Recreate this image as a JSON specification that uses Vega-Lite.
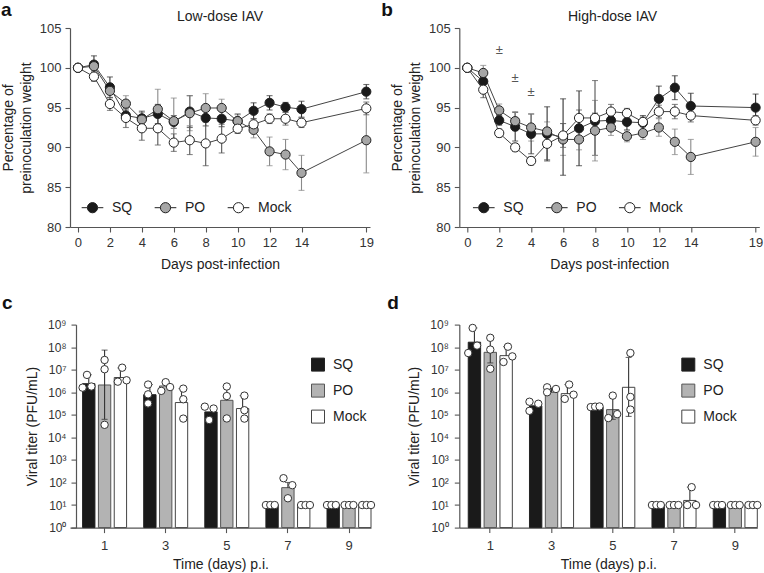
{
  "$schema": "https://vega.github.io/schema/vega-lite/v6.json",
  "padding": {"left": 1, "top": 1, "right": 0, "bottom": 0},
  "background": "white",
  "config": {
    "font": "Liberation Sans",
    "view": {"stroke": null},
    "axis": {"domainColor": "#555", "tickColor": "#555", "labelColor": "#333", "titleColor": "#222", "labelFontSize": 13, "titleFontSize": 14, "titleFontWeight": "normal", "grid": false, "tickSize": 5, "domainWidth": 1.2, "tickWidth": 1.1},
    "legend": {"labelFontSize": 14, "labelColor": "#222", "padding": 0},
    "title": {"fontSize": 19, "fontWeight": "bold", "color": "#111", "anchor": "start", "frame": "group"}
  },
  "datasets": {
    "weight": [
      {"p":"a","s":"SQ","d":0,"v":100,"e":0},{"p":"a","s":"SQ","d":1,"v":100.4,"e":1.1},{"p":"a","s":"SQ","d":2,"v":97.55,"e":1.3},{"p":"a","s":"SQ","d":3,"v":94.0,"e":0.7},{"p":"a","s":"SQ","d":4,"v":93.65,"e":0.9},{"p":"a","s":"SQ","d":5,"v":94.2,"e":1.2},{"p":"a","s":"SQ","d":6,"v":93.2,"e":0.8},{"p":"a","s":"SQ","d":7,"v":94.5,"e":2.0},{"p":"a","s":"SQ","d":8,"v":93.7,"e":1.0},{"p":"a","s":"SQ","d":9,"v":93.6,"e":1.0},{"p":"a","s":"SQ","d":10,"v":93.3,"e":0.9},{"p":"a","s":"SQ","d":11,"v":94.6,"e":1.0},{"p":"a","s":"SQ","d":12,"v":95.6,"e":0.9},{"p":"a","s":"SQ","d":13,"v":95.05,"e":0.6},{"p":"a","s":"SQ","d":14,"v":94.8,"e":1.0},{"p":"a","s":"SQ","d":19,"v":97.0,"e":0.9},
      {"p":"a","s":"PO","d":0,"v":100,"e":0},{"p":"a","s":"PO","d":1,"v":100.2,"e":0.5},{"p":"a","s":"PO","d":2,"v":97.1,"e":0.8},{"p":"a","s":"PO","d":3,"v":95.5,"e":1.0},{"p":"a","s":"PO","d":4,"v":93.5,"e":0.9},{"p":"a","s":"PO","d":5,"v":94.8,"e":2.5},{"p":"a","s":"PO","d":6,"v":93.3,"e":2.9},{"p":"a","s":"PO","d":7,"v":94.3,"e":2.2},{"p":"a","s":"PO","d":8,"v":94.95,"e":1.8},{"p":"a","s":"PO","d":9,"v":94.95,"e":1.1},{"p":"a","s":"PO","d":10,"v":93.3,"e":0.8},{"p":"a","s":"PO","d":11,"v":92.2,"e":1.0},{"p":"a","s":"PO","d":12,"v":89.5,"e":1.8},{"p":"a","s":"PO","d":13,"v":89.1,"e":1.9},{"p":"a","s":"PO","d":14,"v":86.8,"e":2.2},{"p":"a","s":"PO","d":19,"v":90.9,"e":4.1},
      {"p":"a","s":"Mock","d":0,"v":100,"e":0},{"p":"a","s":"Mock","d":1,"v":98.9,"e":0.6},{"p":"a","s":"Mock","d":2,"v":95.45,"e":0.8},{"p":"a","s":"Mock","d":3,"v":93.7,"e":1.2},{"p":"a","s":"Mock","d":4,"v":92.4,"e":1.5},{"p":"a","s":"Mock","d":5,"v":92.4,"e":2.1},{"p":"a","s":"Mock","d":6,"v":90.6,"e":1.1},{"p":"a","s":"Mock","d":7,"v":90.9,"e":1.8},{"p":"a","s":"Mock","d":8,"v":90.5,"e":2.8},{"p":"a","s":"Mock","d":9,"v":91.1,"e":1.8},{"p":"a","s":"Mock","d":10,"v":92.35,"e":0.6},{"p":"a","s":"Mock","d":11,"v":92.9,"e":0.7},{"p":"a","s":"Mock","d":12,"v":93.6,"e":0.6},{"p":"a","s":"Mock","d":13,"v":93.6,"e":0.8},{"p":"a","s":"Mock","d":14,"v":93.1,"e":0.6},{"p":"a","s":"Mock","d":19,"v":94.9,"e":0.8},
      {"p":"b","s":"SQ","d":0,"v":100,"e":0},{"p":"b","s":"SQ","d":1,"v":98.3,"e":0.6},{"p":"b","s":"SQ","d":2,"v":93.4,"e":0.6},{"p":"b","s":"SQ","d":3,"v":92.6,"e":1.8},{"p":"b","s":"SQ","d":4,"v":91.7,"e":2.5},{"p":"b","s":"SQ","d":5,"v":91.7,"e":3.4},{"p":"b","s":"SQ","d":6,"v":91.3,"e":4.8},{"p":"b","s":"SQ","d":7,"v":92.4,"e":4.7},{"p":"b","s":"SQ","d":8,"v":93.3,"e":1.0},{"p":"b","s":"SQ","d":9,"v":93.4,"e":0.9},{"p":"b","s":"SQ","d":10,"v":93.2,"e":1.0},{"p":"b","s":"SQ","d":11,"v":93.1,"e":0.9},{"p":"b","s":"SQ","d":12,"v":96.1,"e":1.6},{"p":"b","s":"SQ","d":13,"v":97.5,"e":1.5},{"p":"b","s":"SQ","d":14,"v":95.2,"e":1.6},{"p":"b","s":"SQ","d":19,"v":95.0,"e":1.7},
      {"p":"b","s":"PO","d":0,"v":100,"e":0},{"p":"b","s":"PO","d":1,"v":99.35,"e":0.95},{"p":"b","s":"PO","d":2,"v":94.65,"e":0.8},{"p":"b","s":"PO","d":3,"v":93.3,"e":1.2},{"p":"b","s":"PO","d":4,"v":92.5,"e":1.7},{"p":"b","s":"PO","d":5,"v":92.0,"e":1.2},{"p":"b","s":"PO","d":6,"v":91.0,"e":2.0},{"p":"b","s":"PO","d":7,"v":91.0,"e":1.3},{"p":"b","s":"PO","d":8,"v":92.1,"e":3.8},{"p":"b","s":"PO","d":9,"v":92.5,"e":1.0},{"p":"b","s":"PO","d":10,"v":91.4,"e":0.7},{"p":"b","s":"PO","d":11,"v":91.8,"e":0.8},{"p":"b","s":"PO","d":12,"v":92.5,"e":1.1},{"p":"b","s":"PO","d":13,"v":90.7,"e":1.6},{"p":"b","s":"PO","d":14,"v":88.8,"e":2.2},{"p":"b","s":"PO","d":19,"v":90.7,"e":1.8},
      {"p":"b","s":"Mock","d":0,"v":100,"e":0},{"p":"b","s":"Mock","d":1,"v":97.25,"e":1.0},{"p":"b","s":"Mock","d":2,"v":91.8,"e":0.5},{"p":"b","s":"Mock","d":3,"v":90.0,"e":0.5},{"p":"b","s":"Mock","d":4,"v":88.3,"e":0.5},{"p":"b","s":"Mock","d":5,"v":90.45,"e":2.0},{"p":"b","s":"Mock","d":6,"v":91.5,"e":1.5},{"p":"b","s":"Mock","d":7,"v":93.7,"e":1.0},{"p":"b","s":"Mock","d":8,"v":93.7,"e":4.7},{"p":"b","s":"Mock","d":9,"v":94.5,"e":0.9},{"p":"b","s":"Mock","d":10,"v":94.3,"e":0.6},{"p":"b","s":"Mock","d":11,"v":93.2,"e":0.6},{"p":"b","s":"Mock","d":12,"v":94.5,"e":0.8},{"p":"b","s":"Mock","d":13,"v":94.5,"e":0.9},{"p":"b","s":"Mock","d":14,"v":94.0,"e":0.8},{"p":"b","s":"Mock","d":19,"v":93.4,"e":0.6}
    ],
    "titer": [
      {"p":"c","d":"1","s":"SQ","v":2400000,"lo":2400000,"hi":6000000},{"p":"c","d":"1","s":"PO","v":2100000,"lo":63000,"hi":74000000},{"p":"c","d":"1","s":"Mock","v":4500000,"lo":4500000,"hi":12000000},
      {"p":"c","d":"3","s":"SQ","v":780000,"lo":780000,"hi":2200000},{"p":"c","d":"3","s":"PO","v":1900000,"lo":1900000,"hi":2800000},{"p":"c","d":"3","s":"Mock","v":350000,"lo":350000,"hi":1450000},
      {"p":"c","d":"5","s":"SQ","v":135000,"lo":135000,"hi":135000},{"p":"c","d":"5","s":"PO","v":440000,"lo":440000,"hi":1800000},{"p":"c","d":"5","s":"Mock","v":190000,"lo":190000,"hi":710000},
      {"p":"c","d":"7","s":"SQ","v":10,"lo":10,"hi":10},{"p":"c","d":"7","s":"PO","v":59,"lo":59,"hi":100},{"p":"c","d":"7","s":"Mock","v":10,"lo":10,"hi":10},
      {"p":"c","d":"9","s":"SQ","v":10,"lo":10,"hi":10},{"p":"c","d":"9","s":"PO","v":10,"lo":10,"hi":10},{"p":"c","d":"9","s":"Mock","v":10,"lo":10,"hi":10},
      {"p":"d","d":"1","s":"SQ","v":166000000,"lo":166000000,"hi":710000000},{"p":"d","d":"1","s":"PO","v":59000000,"lo":20000000,"hi":240000000},{"p":"d","d":"1","s":"Mock","v":42000000,"lo":42000000,"hi":105000000},
      {"p":"d","d":"3","s":"SQ","v":250000,"lo":250000,"hi":250000},{"p":"d","d":"3","s":"PO","v":1000000,"lo":1000000,"hi":1500000},{"p":"d","d":"3","s":"Mock","v":870000,"lo":870000,"hi":2200000},
      {"p":"d","d":"5","s":"SQ","v":220000,"lo":220000,"hi":220000},{"p":"d","d":"5","s":"PO","v":170000,"lo":63000,"hi":710000},{"p":"d","d":"5","s":"Mock","v":1660000,"lo":85000,"hi":35000000},
      {"p":"d","d":"7","s":"SQ","v":10,"lo":10,"hi":10},{"p":"d","d":"7","s":"PO","v":10,"lo":10,"hi":10},{"p":"d","d":"7","s":"Mock","v":16,"lo":16,"hi":62},
      {"p":"d","d":"9","s":"SQ","v":10,"lo":10,"hi":10},{"p":"d","d":"9","s":"PO","v":10,"lo":10,"hi":10},{"p":"d","d":"9","s":"Mock","v":10,"lo":10,"hi":10}
    ],
    "pts": [
      {"p":"c","d":"1","id":"SQ1","v":1600000},{"p":"c","d":"1","id":"SQ2","v":5900000},{"p":"c","d":"1","id":"SQ3","v":1800000},
      {"p":"c","d":"1","id":"PO2","v":27000000},{"p":"c","d":"1","id":"PO2","v":10500000},{"p":"c","d":"1","id":"PO2","v":36000},
      {"p":"c","d":"1","id":"Mock2","v":12300000},{"p":"c","d":"1","id":"Mock1","v":2950000},{"p":"c","d":"1","id":"Mock3","v":3400000},
      {"p":"c","d":"3","id":"SQ2","v":2200000},{"p":"c","d":"3","id":"SQ2","v":810000},{"p":"c","d":"3","id":"SQ2","v":320000},
      {"p":"c","d":"3","id":"PO2","v":2800000},{"p":"c","d":"3","id":"PO1","v":1150000},{"p":"c","d":"3","id":"PO3","v":1700000},
      {"p":"c","d":"3","id":"Mock2","v":1450000},{"p":"c","d":"3","id":"Mock2","v":490000},{"p":"c","d":"3","id":"Mock2","v":68000},
      {"p":"c","d":"5","id":"SQ1","v":230000},{"p":"c","d":"5","id":"SQ3","v":190000},{"p":"c","d":"5","id":"SQ2","v":59000},
      {"p":"c","d":"5","id":"PO2","v":1800000},{"p":"c","d":"5","id":"PO2","v":680000},{"p":"c","d":"5","id":"PO2","v":69000},
      {"p":"c","d":"5","id":"Mock2","v":710000},{"p":"c","d":"5","id":"Mock2","v":160000},{"p":"c","d":"5","id":"Mock2","v":68000},
      {"p":"c","d":"7","id":"SQ1","v":10},{"p":"c","d":"7","id":"SQ2","v":10},{"p":"c","d":"7","id":"SQ3","v":10},
      {"p":"c","d":"7","id":"PO1","v":155},{"p":"c","d":"7","id":"PO3","v":76},{"p":"c","d":"7","id":"PO2","v":20},
      {"p":"c","d":"7","id":"Mock1","v":10},{"p":"c","d":"7","id":"Mock2","v":10},{"p":"c","d":"7","id":"Mock3","v":10},
      {"p":"c","d":"9","id":"SQ1","v":10},{"p":"c","d":"9","id":"SQ2","v":10},{"p":"c","d":"9","id":"SQ3","v":10},
      {"p":"c","d":"9","id":"PO1","v":10},{"p":"c","d":"9","id":"PO2","v":10},{"p":"c","d":"9","id":"PO3","v":10},
      {"p":"c","d":"9","id":"Mock1","v":10},{"p":"c","d":"9","id":"Mock2","v":10},{"p":"c","d":"9","id":"Mock3","v":10},
      {"p":"d","d":"1","id":"SQ2","v":710000000},{"p":"d","d":"1","id":"SQ3","v":117000000},{"p":"d","d":"1","id":"SQ1","v":55000000},
      {"p":"d","d":"1","id":"PO2","v":260000000},{"p":"d","d":"1","id":"PO2","v":78000000},{"p":"d","d":"1","id":"PO2","v":11000000},
      {"p":"d","d":"1","id":"Mock2","v":105000000},{"p":"d","d":"1","id":"Mock3","v":39000000},{"p":"d","d":"1","id":"Mock1","v":22000000},
      {"p":"d","d":"3","id":"SQ1","v":380000},{"p":"d","d":"3","id":"SQ3","v":310000},{"p":"d","d":"3","id":"SQ1","v":150000},
      {"p":"d","d":"3","id":"PO1","v":1660000},{"p":"d","d":"3","id":"PO3","v":1400000},{"p":"d","d":"3","id":"PO1","v":1000000},
      {"p":"d","d":"3","id":"Mock2","v":2200000},{"p":"d","d":"3","id":"Mock3","v":780000},{"p":"d","d":"3","id":"Mock1","v":510000},
      {"p":"d","d":"5","id":"SQ1","v":220000},{"p":"d","d":"5","id":"SQ2","v":230000},{"p":"d","d":"5","id":"SQ3","v":235000},
      {"p":"d","d":"5","id":"PO2","v":710000},{"p":"d","d":"5","id":"PO3","v":107000},{"p":"d","d":"5","id":"PO1","v":72000},
      {"p":"d","d":"5","id":"Mock2","v":55000000},{"p":"d","d":"5","id":"Mock2","v":620000},{"p":"d","d":"5","id":"Mock2","v":170000},
      {"p":"d","d":"7","id":"SQ1","v":10},{"p":"d","d":"7","id":"SQ2","v":10},{"p":"d","d":"7","id":"SQ3","v":10},
      {"p":"d","d":"7","id":"PO1","v":10},{"p":"d","d":"7","id":"PO2","v":10},{"p":"d","d":"7","id":"PO3","v":10},
      {"p":"d","d":"7","id":"Mock2","v":62},{"p":"d","d":"7","id":"Mock1","v":10},{"p":"d","d":"7","id":"Mock3","v":10},
      {"p":"d","d":"9","id":"SQ1","v":10},{"p":"d","d":"9","id":"SQ2","v":10},{"p":"d","d":"9","id":"SQ3","v":10},
      {"p":"d","d":"9","id":"PO1","v":10},{"p":"d","d":"9","id":"PO2","v":10},{"p":"d","d":"9","id":"PO3","v":10},
      {"p":"d","d":"9","id":"Mock1","v":10},{"p":"d","d":"9","id":"Mock2","v":10},{"p":"d","d":"9","id":"Mock3","v":10}
    ]
  },
  "columns": 2,
  "bounds": "flush",
  "spacing": {"row": 97.6, "column": 88.3},
  "resolve": {"scale": {"x": "independent", "y": "independent", "fill": "independent", "color": "independent", "stroke": "independent", "xOffset": "independent"}, "legend": {"fill": "independent", "color": "independent", "stroke": "independent"}},
  "concat": [
    {
      "width": 300, "height": 199,
      "title": {"text": "a", "dx": -69, "offset": -10},
      "encoding": {
        "x": {"field": "d", "type": "quantitative", "scale": {"domain": [-0.5, 14, 19, 19.25], "range": [0, 231.5, 296.3, 300]}, "axis": {"values": [0,2,4,6,8,10,12,14,19], "title": "Days post-infection", "labelPadding": 4, "titlePadding": 8}},
        "y": {"field": "v", "type": "quantitative", "scale": {"domain": [80, 105], "nice": false, "zero": false}, "axis": {"values": [80,85,90,95,100,105], "title": ["Percentage of", "preinoculation weight"], "titleLineHeight": 18, "titlePadding": 6, "labelPadding": 4}}
      },
      "layer": [
        {"data": {"name": "weight"}, "transform": [{"filter": "datum.p == 'a'"}],
         "mark": {"type": "errorbar", "ticks": true, "size": 6, "thickness": 1.1},
         "encoding": {"yError": {"field": "e"}, "color": {"field": "s", "type": "nominal", "scale": {"domain": ["Mock","PO","SQ"], "range": ["#555555","#8a8a8a","#333333"]}, "legend": null}}},
        {"data": {"name": "weight"}, "transform": [{"filter": "datum.p == 'a'"}],
         "mark": {"type": "line", "color": "#444", "strokeWidth": 1}, "encoding": {"detail": {"field": "s"}}},
        {"data": {"name": "weight"}, "transform": [{"filter": "datum.p == 'a'"}],
         "mark": {"type": "point", "shape": "circle", "filled": true, "size": 85, "stroke": "#222", "strokeWidth": 1, "opacity": 1},
         "encoding": {"fill": {"field": "s", "type": "nominal", "scale": {"domain": ["SQ","PO","Mock"], "range": ["#1a1a1a","#a6a6a6","#ffffff"]},
           "legend": {"orient": "none", "legendX": 11, "legendY": 168, "direction": "horizontal", "columns": 3, "gridAlign": "all", "title": null, "symbolType": "M-0.47,0C-0.47,-0.26,-0.26,-0.47,0,-0.47C0.26,-0.47,0.47,-0.26,0.47,0C0.47,0.26,0.26,0.47,0,0.47C-0.26,0.47,-0.47,0.26,-0.47,0ZM-1,0L-0.47,0M0.47,0L1,0", "symbolSize": 470, "symbolStrokeColor": "#222", "symbolStrokeWidth": 1, "symbolOpacity": 1, "labelOffset": 8, "columnPadding": 6}}}},
        {"data": {"values": [{"label": "Low-dose IAV", "d": 8.9, "v": 105.84}]},
         "mark": {"type": "text", "fontSize": 14, "fontWeight": "normal", "color": "#222", "align": "center", "baseline": "alphabetic"},
         "encoding": {"text": {"field": "label"}}}
      ]
    },
    {
      "width": 300, "height": 199,
      "title": {"text": "b", "dx": -78, "offset": -10},
      "encoding": {
        "x": {"field": "d", "type": "quantitative", "scale": {"domain": [-0.5, 14, 19, 19.25], "range": [0, 231.5, 296.3, 300]}, "axis": {"values": [0,2,4,6,8,10,12,14,19], "title": "Days post-infection", "labelPadding": 4, "titlePadding": 8}},
        "y": {"field": "v", "type": "quantitative", "scale": {"domain": [80, 105], "nice": false, "zero": false}, "axis": {"values": [80,85,90,95,100,105], "title": ["Percentage of", "preinoculation weight"], "titleLineHeight": 18, "titlePadding": 6, "labelPadding": 4}}
      },
      "layer": [
        {"data": {"name": "weight"}, "transform": [{"filter": "datum.p == 'b'"}],
         "mark": {"type": "errorbar", "ticks": true, "size": 6, "thickness": 1.1},
         "encoding": {"yError": {"field": "e"}, "color": {"field": "s", "type": "nominal", "scale": {"domain": ["Mock","PO","SQ"], "range": ["#555555","#8a8a8a","#333333"]}, "legend": null}}},
        {"data": {"name": "weight"}, "transform": [{"filter": "datum.p == 'b'"}],
         "mark": {"type": "line", "color": "#444", "strokeWidth": 1}, "encoding": {"detail": {"field": "s"}}},
        {"data": {"name": "weight"}, "transform": [{"filter": "datum.p == 'b'"}],
         "mark": {"type": "point", "shape": "circle", "filled": true, "size": 85, "stroke": "#222", "strokeWidth": 1, "opacity": 1},
         "encoding": {"fill": {"field": "s", "type": "nominal", "scale": {"domain": ["SQ","PO","Mock"], "range": ["#1a1a1a","#a6a6a6","#ffffff"]},
           "legend": {"orient": "none", "legendX": 13, "legendY": 168, "direction": "horizontal", "columns": 3, "gridAlign": "all", "title": null, "symbolType": "M-0.47,0C-0.47,-0.26,-0.26,-0.47,0,-0.47C0.26,-0.47,0.47,-0.26,0.47,0C0.47,0.26,0.26,0.47,0,0.47C-0.26,0.47,-0.47,0.26,-0.47,0ZM-1,0L-0.47,0M0.47,0L1,0", "symbolSize": 470, "symbolStrokeColor": "#222", "symbolStrokeWidth": 1, "symbolOpacity": 1, "labelOffset": 8, "columnPadding": 6}}}},
        {"data": {"values": [{"d": 2, "v": 102.2, "t": "±"}, {"d": 3, "v": 98.7, "t": "±"}, {"d": 4, "v": 97.0, "t": "±"}]},
         "mark": {"type": "text", "fontSize": 13, "color": "#555", "baseline": "middle", "align": "center"},
         "encoding": {"text": {"field": "t"}}},
        {"data": {"values": [{"label": "High-dose IAV", "d": 9.1, "v": 105.84}]},
         "mark": {"type": "text", "fontSize": 14, "fontWeight": "normal", "color": "#222", "align": "center", "baseline": "alphabetic"},
         "encoding": {"text": {"field": "label"}}}
      ]
    },
    {
      "width": 301, "height": 203,
      "title": {"text": "c", "dx": -68, "offset": 6},
      "resolve": {"scale": {"xOffset": "independent"}},
      "encoding": {
        "x": {"field": "d", "type": "ordinal", "sort": ["1","3","5","7","9"], "scale": {"paddingInner": 0.28, "paddingOuter": 0.103, "align": 1}, "axis": {"title": "Time (days) p.i.", "labelAngle": 0, "labelPadding": 7, "titlePadding": 5}},
        "y": {"type": "quantitative", "scale": {"type": "log", "domain": [1, 1000000000], "nice": false}, "axis": {"offset": -6, "values": [1,10,100,1000,10000,100000,1000000,10000000,100000000,1000000000], "labelExpr": "'10' + ['⁰','¹','²','³','⁴','⁵','⁶','⁷','⁸','⁹'][round(log(datum.value)/LN10)]", "title": "Viral titer (PFU/mL)", "labelPadding": 5, "titlePadding": 8, "labelFontSize": 12}}
      },
      "layer": [
        {"data": {"name": "titer"}, "transform": [{"filter": "datum.p == 'c'"}],
         "mark": {"type": "bar", "strokeWidth": 1},
         "encoding": {"xOffset": {"field": "s", "scale": {"domain": ["SQ","PO","Mock"], "paddingInner": 0.22, "paddingOuter": 0}},
           "y": {"field": "v"}, "y2": {"datum": 1},
           "fill": {"field": "s", "type": "nominal", "scale": {"domain": ["SQ","PO","Mock"], "range": ["#1a1a1a","#b3b3b3","#ffffff"]},
             "legend": {"orient": "none", "legendX": 241, "legendY": 33, "title": null, "symbolType": "square", "symbolSize": 169, "symbolStrokeColor": "#444", "symbolStrokeWidth": 1, "labelOffset": 8, "rowPadding": 8}},
           "stroke": {"field": "s", "type": "nominal", "scale": {"domain": ["SQ","PO","Mock"], "range": ["#222222","#555555","#444444"]}, "legend": null}}},
        {"data": {"name": "titer"}, "transform": [{"filter": "datum.p == 'c' && datum.hi > datum.lo"}],
         "mark": {"type": "rule", "color": "#333", "strokeWidth": 1.1},
         "encoding": {"xOffset": {"field": "s", "scale": {"domain": ["SQ","PO","Mock"], "paddingInner": 0.22, "paddingOuter": 0}}, "y": {"field": "lo"}, "y2": {"field": "hi"}}},
        {"data": {"name": "titer"}, "transform": [{"filter": "datum.p == 'c' && datum.hi > datum.v"}],
         "mark": {"type": "tick", "color": "#333", "size": 6, "thickness": 1.1, "orient": "horizontal"},
         "encoding": {"xOffset": {"field": "s", "scale": {"domain": ["SQ","PO","Mock"], "paddingInner": 0.22, "paddingOuter": 0}}, "y": {"field": "hi"}}},
        {"data": {"name": "titer"}, "transform": [{"filter": "datum.p == 'c' && datum.lo < datum.v"}],
         "mark": {"type": "tick", "color": "#333", "size": 6, "thickness": 1.1, "orient": "horizontal"},
         "encoding": {"xOffset": {"field": "s", "scale": {"domain": ["SQ","PO","Mock"], "paddingInner": 0.22, "paddingOuter": 0}}, "y": {"field": "lo"}}},
        {"data": {"name": "pts"}, "transform": [{"filter": "datum.p == 'c'"}],
         "mark": {"type": "point", "shape": "circle", "filled": true, "fill": "#ffffff", "stroke": "#333", "strokeWidth": 1, "size": 55, "opacity": 1},
         "encoding": {"xOffset": {"field": "id", "scale": {"domain": ["SQ1","SQ2","SQ3","g1","PO1","PO2","PO3","g2","Mock1","Mock2","Mock3"], "paddingInner": 0, "paddingOuter": 0}}, "y": {"field": "v"}}}
      ]
    },
    {
      "width": 298, "height": 203,
      "title": {"text": "d", "dx": -72, "offset": 6},
      "resolve": {"scale": {"xOffset": "independent"}},
      "encoding": {
        "x": {"field": "d", "type": "ordinal", "sort": ["1","3","5","7","9"], "scale": {"paddingInner": 0.28, "paddingOuter": 0.073, "align": 1}, "axis": {"title": "Time (days) p.i.", "labelAngle": 0, "labelPadding": 7, "titlePadding": 5}},
        "y": {"type": "quantitative", "scale": {"type": "log", "domain": [1, 1000000000], "nice": false}, "axis": {"values": [1,10,100,1000,10000,100000,1000000,10000000,100000000,1000000000], "labelExpr": "'10' + ['⁰','¹','²','³','⁴','⁵','⁶','⁷','⁸','⁹'][round(log(datum.value)/LN10)]", "title": "Viral titer (PFU/mL)", "labelPadding": 6, "titlePadding": 8, "labelFontSize": 12}}
      },
      "layer": [
        {"data": {"name": "titer"}, "transform": [{"filter": "datum.p == 'd'"}],
         "mark": {"type": "bar", "strokeWidth": 1},
         "encoding": {"xOffset": {"field": "s", "scale": {"domain": ["SQ","PO","Mock"], "paddingInner": 0.22, "paddingOuter": 0}},
           "y": {"field": "v"}, "y2": {"datum": 1},
           "fill": {"field": "s", "type": "nominal", "scale": {"domain": ["SQ","PO","Mock"], "range": ["#1a1a1a","#b3b3b3","#ffffff"]},
             "legend": {"orient": "none", "legendX": 222, "legendY": 33, "title": null, "symbolType": "square", "symbolSize": 169, "symbolStrokeColor": "#444", "symbolStrokeWidth": 1, "labelOffset": 8, "rowPadding": 8}},
           "stroke": {"field": "s", "type": "nominal", "scale": {"domain": ["SQ","PO","Mock"], "range": ["#222222","#555555","#444444"]}, "legend": null}}},
        {"data": {"name": "titer"}, "transform": [{"filter": "datum.p == 'd' && datum.hi > datum.lo"}],
         "mark": {"type": "rule", "color": "#333", "strokeWidth": 1.1},
         "encoding": {"xOffset": {"field": "s", "scale": {"domain": ["SQ","PO","Mock"], "paddingInner": 0.22, "paddingOuter": 0}}, "y": {"field": "lo"}, "y2": {"field": "hi"}}},
        {"data": {"name": "titer"}, "transform": [{"filter": "datum.p == 'd' && datum.hi > datum.v"}],
         "mark": {"type": "tick", "color": "#333", "size": 6, "thickness": 1.1, "orient": "horizontal"},
         "encoding": {"xOffset": {"field": "s", "scale": {"domain": ["SQ","PO","Mock"], "paddingInner": 0.22, "paddingOuter": 0}}, "y": {"field": "hi"}}},
        {"data": {"name": "titer"}, "transform": [{"filter": "datum.p == 'd' && datum.lo < datum.v"}],
         "mark": {"type": "tick", "color": "#333", "size": 6, "thickness": 1.1, "orient": "horizontal"},
         "encoding": {"xOffset": {"field": "s", "scale": {"domain": ["SQ","PO","Mock"], "paddingInner": 0.22, "paddingOuter": 0}}, "y": {"field": "lo"}}},
        {"data": {"name": "pts"}, "transform": [{"filter": "datum.p == 'd'"}],
         "mark": {"type": "point", "shape": "circle", "filled": true, "fill": "#ffffff", "stroke": "#333", "strokeWidth": 1, "size": 55, "opacity": 1},
         "encoding": {"xOffset": {"field": "id", "scale": {"domain": ["SQ1","SQ2","SQ3","g1","PO1","PO2","PO3","g2","Mock1","Mock2","Mock3"], "paddingInner": 0, "paddingOuter": 0}}, "y": {"field": "v"}}}
      ]
    }
  ]
}
